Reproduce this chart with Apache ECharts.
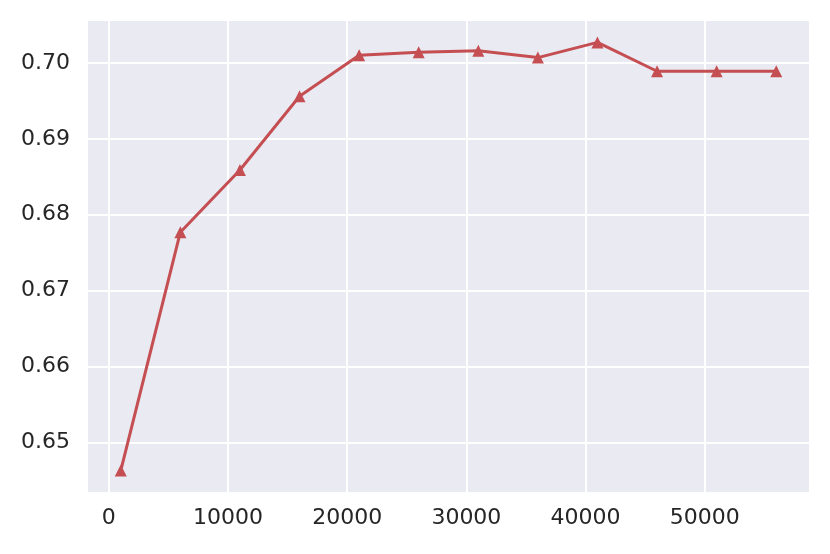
<!DOCTYPE html>
<html><head><meta charset="utf-8">
<script src="https://cdn.jsdelivr.net/npm/echarts@6/dist/echarts.min.js"></script>
<style>html,body{margin:0;padding:0;background:#fff}#c{width:830px;height:554px}</style>
</head><body><div id="c"></div>
<script>
var xValues = [1000, 6000, 11000, 16000, 21000, 26000, 31000, 36000, 41000, 46000, 51000, 56000];
var yValues = [0.6463, 0.6777, 0.6859, 0.6956, 0.7010, 0.7014, 0.7016, 0.7007, 0.7027, 0.6989, 0.6989, 0.6989];
var xTicks = [0, 10000, 20000, 30000, 40000, 50000];
var yTicks = [0.65, 0.66, 0.67, 0.68, 0.69, 0.70];

var chart = echarts.init(document.getElementById('c'), null, {renderer: 'canvas'});
var font = {fontFamily: 'DejaVu Sans', fontSize: 22, color: '#262626'};
chart.setOption({
  animation: false,
  backgroundColor: '#ffffff',
  grid: {left: 88, right: 21, top: 21, bottom: 62, show: true, backgroundColor: '#EAEAF2', borderWidth: 0},
  xAxis: {
    type: 'value', min: -1750, max: 58750,
    axisLine: {show: false}, axisTick: {show: false, customValues: xTicks},
    axisLabel: Object.assign({customValues: xTicks, margin: 15, formatter: function(v){return String(v);}}, font),
    splitLine: {show: true, lineStyle: {color: '#ffffff', width: 2}}
  },
  yAxis: {
    type: 'value', min: 0.64348, max: 0.70552,
    axisLine: {show: false}, axisTick: {show: false, customValues: yTicks},
    axisLabel: Object.assign({customValues: yTicks, margin: 18, formatter: function(v){return v.toFixed(2);}}, font),
    splitLine: {show: true, lineStyle: {color: '#ffffff', width: 2}}
  },
  series: [{
    type: 'line',
    data: xValues.map(function(x, i){ return [x, yValues[i]]; }),
    symbol: 'triangle', symbolSize: 12,
    lineStyle: {color: '#C44E52', width: 3},
    itemStyle: {color: '#C44E52'}
  }]
});
</script></body></html>
